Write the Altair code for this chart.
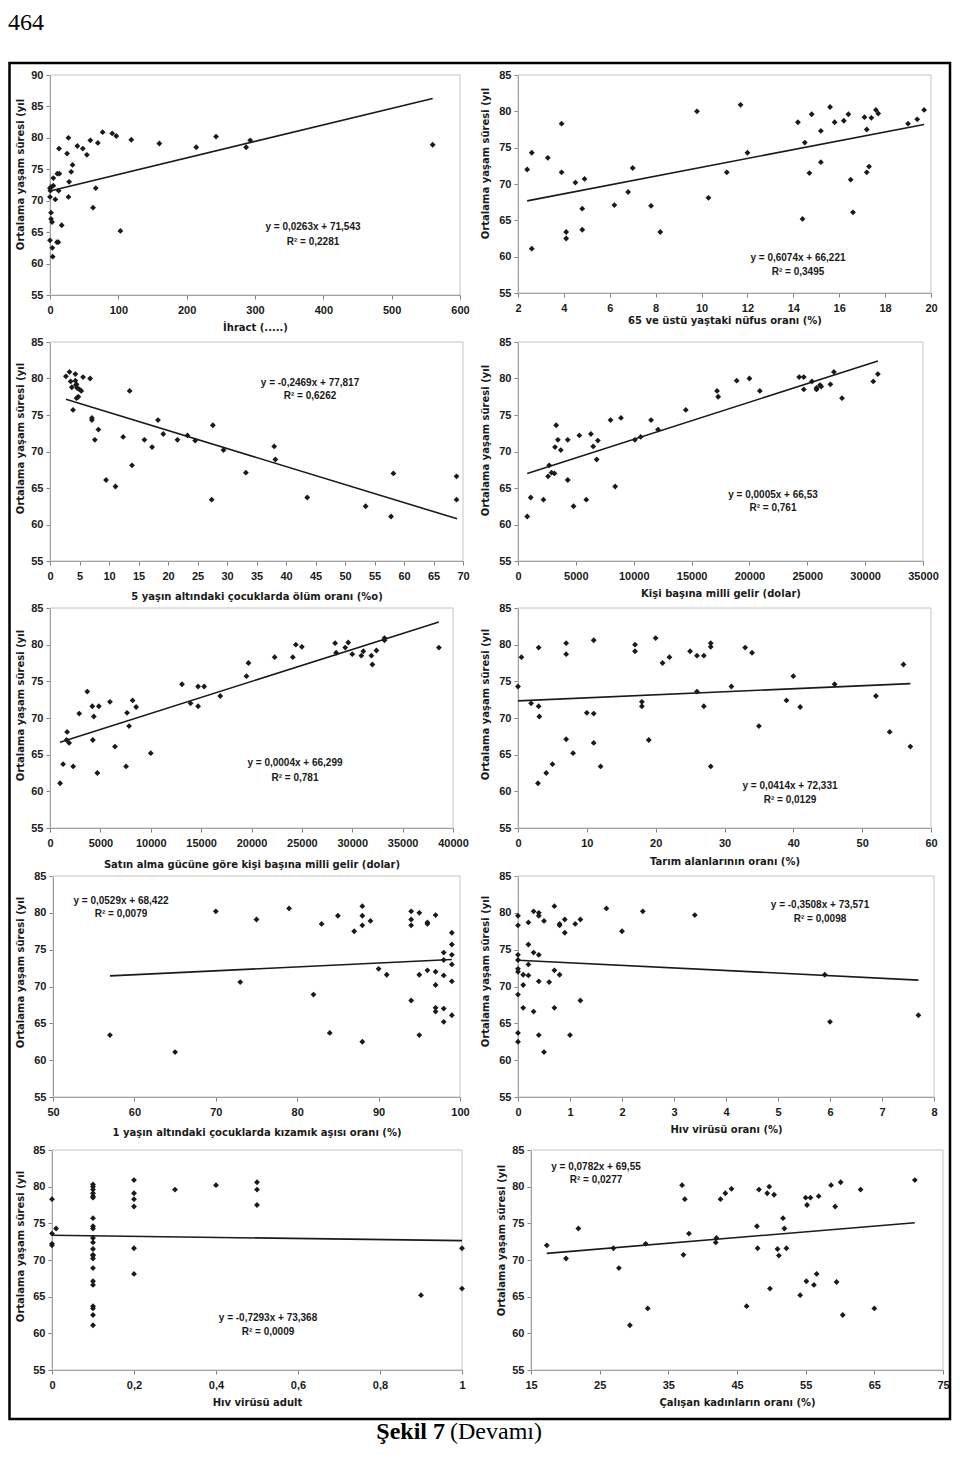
import altair as alt
import pandas as pd

LABEL_FONT = "Liberation Sans"
TITLE_FONT = "DejaVu Sans"
SERIF = "Liberation Serif"
INK = "#1a1a1a"
AXIS_GRAY = "#808080"
FRAME_GRAY = "#c4c4c4"

Y_TITLE = "Ortalama yaşam süresi (yıl"
Y_TICKS_90 = [55, 60, 65, 70, 75, 80, 85, 90]
Y_TICKS_85 = [55, 60, 65, 70, 75, 80, 85]

# ---------------- Panel 1: İhracat ----------------
p1_x = [0, 1.5, 1.5, 3, 3.4, 3.9, 0, 0, 1.5, 4.9, 4.9, 0.5, 7.8, 10.2, 12.2, 10.7, 13.7, 13.2,
        12.7, 17.1, 27, 25, 28, 27, 31, 33, 40, 48, 54, 59, 63, 67, 70, 77, 91, 97,
        103, 119, 160, 214, 243, 287, 293, 560]
p1_y = [63.7, 68.1, 67.1, 66.6, 62.5, 61.1, 70.6, 72.0, 72.2, 72.4, 73.6, 71.6, 70.2, 63.4, 63.4, 74.3, 74.3, 78.3,
        71.6, 66.1, 80.0, 77.5, 73.0, 70.6, 74.6, 75.7, 78.7, 78.3, 77.3, 79.6, 68.9, 72.0, 79.2, 80.9, 80.7, 80.3,
        65.2, 79.7, 79.1, 78.5, 80.2, 78.5, 79.6, 78.9]
p1_trend_x = [0, 560]
p1_trend_y = [71.54, 86.27]
p1_xticks = [0, 100, 200, 300, 400, 500, 600]
p1_xtitle = "İhract (.....)"
p1_eq = ["y = 0,0263x + 71,543", "R² = 0,2281"]

# ---------------- Panel 2: 65+ nüfus ----------------
p2_x = [2.4, 2.6, 2.6, 3.3, 3.9, 3.9, 4.1, 4.1, 4.5, 4.8, 4.8, 4.9, 6.2, 6.8, 7.0, 7.8, 8.2, 9.8, 10.3,
        11.1, 11.7, 12.0, 14.2, 14.4, 14.5, 14.7, 14.8, 15.2, 15.2, 15.6, 15.8, 16.2, 16.4, 16.5, 16.6,
        17.1, 17.2, 17.2, 17.3, 17.4, 17.6, 17.7, 19.0, 19.4, 19.7]
p2_y = [72.0, 74.3, 61.1, 73.6, 78.3, 71.6, 63.4, 62.5, 70.2, 66.6, 63.7, 70.7, 67.1, 68.9, 72.2, 67.0, 63.4, 80.0, 68.1,
        71.6, 80.9, 74.3, 78.5, 65.2, 75.7, 71.5, 79.6, 77.3, 73.0, 80.6, 78.5, 78.7, 79.6, 70.6, 66.1,
        79.2, 77.5, 71.6, 72.4, 79.1, 80.2, 79.7, 78.3, 78.9, 80.2]
p2_trend_x = [2.4, 19.7]
p2_trend_y = [67.68, 78.19]
p2_xticks = [2, 4, 6, 8, 10, 12, 14, 16, 18, 20]
p2_xtitle = "65 ve üstü yaştaki nüfus oranı (%)"
p2_eq = ["y = 0,6074x + 66,221", "R² = 0,3495"]

# ---------------- Panel 3: 5 yaş altı ölüm ----------------
p3_x = [2.7, 3.3, 3.5, 3.7, 3.9, 4.3, 4.3, 4.4, 4.5, 4.6, 4.8, 4.5, 5.0, 5.3, 5.6, 6.8, 7.1, 7.1,
        7.6, 8.2, 9.5, 11.1, 12.4, 13.5, 13.9, 16.0, 17.3, 18.3, 19.2, 21.6, 23.3, 24.6, 27.4, 27.6,
        29.4, 33.2, 38.0, 38.2, 43.6, 53.5, 57.8, 58.2, 68.9, 68.9]
p3_y = [80.3, 80.9, 79.6, 78.8, 75.7, 80.6, 79.7, 79.1, 79.2, 78.7, 77.5, 77.3, 78.5, 78.3, 80.2, 80.0, 74.6, 74.3,
        71.6, 73.0, 66.1, 65.2, 72.0, 78.3, 68.1, 71.6, 70.6, 74.3, 72.4, 71.6, 72.2, 71.5, 63.4, 73.6,
        70.2, 67.1, 70.7, 68.9, 63.7, 62.5, 61.1, 67.0, 66.6, 63.4]
p3_trend_x = [2.7, 69.0]
p3_trend_y = [77.15, 60.78]
p3_xticks = [0, 5, 10, 15, 20, 25, 30, 35, 40, 45, 50, 55, 60, 65, 70]
p3_xtitle = "5 yaşın altındaki çocuklarda ölüm oranı (%o)"
p3_eq = ["y = -0,2469x + 77,817", "R² = 0,6262"]

# ---------------- Panel 4: kişi başına milli gelir ----------------
p4_x = [800, 1100, 2200, 2600, 2700, 2900, 3200, 3300, 3450, 3150, 3700, 4300, 4300, 4800, 5300, 6300,
        6500, 6800, 6900, 5900, 8000, 8400, 8900, 10100, 10600, 11500, 12100, 14500, 17200, 17300,
        18900, 20000, 20900, 24300, 24700, 24700, 25400, 25800, 25800, 26100, 26200, 27000, 27300,
        28000, 30700, 31100]
p4_y = [61.1, 63.7, 63.4, 66.6, 68.1, 67.1, 70.6, 73.6, 71.6, 67.0, 70.2, 71.6, 66.1, 62.5, 72.2, 72.4,
        70.7, 68.9, 71.5, 63.4, 74.3, 65.2, 74.6, 71.6, 72.0, 74.3, 73.0, 75.7, 78.3, 77.5,
        79.7, 80.0, 78.3, 80.2, 80.2, 78.5, 79.6, 78.7, 78.5, 79.1, 78.9, 79.2, 80.9,
        77.3, 79.6, 80.6]
p4_trend_x = [800, 31100]
p4_trend_y = [67.0, 82.4]
p4_xticks = [0, 5000, 10000, 15000, 20000, 25000, 30000, 35000]
p4_xtitle = "Kişi başına milli gelir (dolar)"
p4_eq = ["y = 0,0005x + 66,53", "R² = 0,761"]

# ---------------- Panel 5: satın alma gücü ----------------
p5_x = [1000, 1300, 1700, 1650, 1900, 2300, 2900, 3700, 4200, 4350, 4250, 4700, 4850, 5950, 6450, 7550,
        7650, 7850, 8200, 8550, 10000, 13100, 13950, 14700, 14700, 15300, 16900, 19500, 19700, 22300,
        24100, 24400, 25000, 28300, 28400, 29300, 29600, 30000, 30900, 31100, 31900, 32000, 32400,
        33200, 33200, 38600]
p5_y = [61.1, 63.7, 68.1, 67.0, 66.6, 63.4, 70.6, 73.6, 71.6, 70.2, 67.0, 62.5, 71.6, 72.2, 66.1, 63.4,
        70.7, 68.9, 72.4, 71.5, 65.2, 74.6, 72.0, 74.3, 71.6, 74.3, 73.0, 75.7, 77.5, 78.3,
        78.3, 80.0, 79.7, 80.2, 78.9, 79.6, 80.3, 78.7, 78.5, 79.1, 78.5, 77.3, 79.2,
        80.9, 80.6, 79.6]
p5_trend_x = [1000, 38600]
p5_trend_y = [66.7, 83.1]
p5_xticks = [0, 5000, 10000, 15000, 20000, 25000, 30000, 35000, 40000]
p5_xtitle = "Satın alma gücüne göre kişi başına milli gelir (dolar)"
p5_eq = ["y = 0,0004x + 66,299", "R² = 0,781"]

# ---------------- Panel 6: tarım alanları ----------------
p6_x = [0, 0.5, 1.9, 2.9, 3.0, 3.0, 3.1, 4.1, 5.0, 7, 7, 7, 8, 10, 11, 11, 11, 12, 17, 17, 18, 18, 19, 20,
        21, 22, 25, 26, 26, 27, 27, 28, 28, 28, 31, 33, 34, 35, 39, 40, 41, 46, 52, 54, 56, 57]
p6_y = [74.3, 78.3, 72.0, 61.1, 79.6, 71.6, 70.2, 62.5, 63.7, 80.2, 78.7, 67.1, 65.2, 70.7, 70.6, 80.6, 66.6,
        63.4, 80.0, 79.1, 72.2, 71.6, 67.0, 80.9, 77.5, 78.3, 79.1, 78.5, 73.6, 78.5, 71.6, 80.2, 79.7, 63.4,
        74.3, 79.6, 78.9, 68.9, 72.4, 75.7, 71.5, 74.6, 73.0, 68.1, 77.3, 66.1]
p6_trend_x = [0, 57]
p6_trend_y = [72.33, 74.69]
p6_xticks = [0, 10, 20, 30, 40, 50, 60]
p6_xtitle = "Tarım alanlarının oranı (%)"
p6_eq = ["y = 0,0414x + 72,331", "R² = 0,0129"]

# ---------------- Panel 7: kızamık aşısı ----------------
p7_x = [57, 65, 70, 73, 75, 79, 82, 83, 84, 85, 87, 88, 88, 88, 88, 89, 90, 91, 94, 94, 94, 94, 95, 95,
        95, 96, 96, 96, 97, 97, 97, 97, 97, 98, 98, 98, 98, 98, 99, 99, 99, 99, 99, 99]
p7_y = [63.4, 61.1, 80.2, 70.6, 79.1, 80.6, 68.9, 78.5, 63.7, 79.6, 77.5, 80.9, 79.6, 78.3, 62.5, 78.9,
        72.4, 71.6, 80.2, 79.1, 78.3, 68.1, 80.0, 71.6, 63.4, 78.5, 78.7, 72.2, 79.7, 72.0, 70.2, 67.1,
        66.6, 74.6, 73.6, 71.5, 67.0, 65.2, 77.3, 75.7, 74.3, 73.0, 70.7, 66.1]
p7_trend_x = [57, 99]
p7_trend_y = [71.44, 73.66]
p7_xticks = [50, 60, 70, 80, 90, 100]
p7_xtitle = "1 yaşın altındaki çocuklarda kızamık aşısı oranı (%)"
p7_eq = ["y = 0,0529x + 68,422", "R² = 0,0079"]

# ---------------- Panel 8: HIV oranı ----------------
p8_x = [0, 0, 0, 0, 0, 0, 0, 0, 0, 0.1, 0.1, 0.1, 0.2, 0.2, 0.2, 0.2, 0.3, 0.3, 0.3,
        0.4, 0.4, 0.4, 0.4, 0.4, 0.5, 0.5, 0.6, 0.7, 0.7, 0.7, 0.8, 0.8, 0.8, 0.9, 0.9,
        1.0, 1.1, 1.2, 1.2, 1.7, 2.0, 2.4, 3.4, 5.9, 6.0, 7.7]
p8_y = [79.6, 78.3, 74.3, 73.6, 72.4, 72.0, 68.9, 63.7, 62.5, 71.6, 70.2, 67.1, 78.7, 75.7, 73.0, 71.5,
        80.2, 74.6, 66.6, 80.0, 79.6, 74.3, 70.7, 63.4, 78.9, 61.1, 70.6, 80.9, 72.2, 67.1, 78.5, 78.3,
        71.6, 79.1, 77.3, 63.4, 78.5, 79.1, 68.1, 80.6, 77.5, 80.2, 79.7, 71.6, 65.2, 66.1]
p8_trend_x = [0, 7.7]
p8_trend_y = [73.57, 70.87]
p8_xticks = [0, 1, 2, 3, 4, 5, 6, 7, 8]
p8_xtitle = "Hıv virüsü oranı (%)"
p8_eq = ["y = -0,3508x + 73,571", "R² = 0,0098"]

# ---------------- Panel 9: HIV adult ----------------
p9_x = [0, 0, 0, 0, 0.01,
        0.1, 0.1, 0.1, 0.1, 0.1, 0.1, 0.1, 0.1, 0.1, 0.1, 0.1,
        0.1, 0.1, 0.1, 0.1, 0.1, 0.1, 0.1, 0.1, 0.1, 0.1, 0.1,
        0.2, 0.2, 0.2, 0.2, 0.2, 0.2,
        0.3, 0.4, 0.5, 0.5, 0.5, 0.9, 1, 1]
p9_y = [78.3, 73.6, 72.2, 72.0, 74.3,
        80.3, 80.0, 79.6, 79.1, 78.7, 78.5, 75.7, 74.6, 74.3, 73.0, 72.4,
        71.5, 70.7, 70.6, 70.2, 68.9, 67.1, 66.6, 63.7, 63.4, 62.5, 61.1,
        80.9, 79.1, 78.3, 77.3, 71.6, 68.1,
        79.6, 80.2, 80.6, 79.6, 77.5, 65.2, 71.6, 66.1]
p9_trend_x = [0, 1]
p9_trend_y = [73.37, 72.64]
p9_xticks = [0, 0.2, 0.4, 0.6, 0.8, 1]
p9_xtitle = "Hıv virüsü adult"
p9_eq = ["y = -0,7293x + 73,368", "R² = 0,0009"]

# ---------------- Panel 10: çalışan kadınlar ----------------
p10_x = [17.3, 20.1, 21.9, 27.0, 27.8, 29.4, 31.7, 32.0, 37.0, 37.2, 37.4, 38.0, 41.9, 42.0, 42.6, 43.3,
         44.2, 46.4, 47.9, 48.0, 48.2, 49.4, 49.7, 49.8, 50.4, 50.9, 51.1, 51.7, 51.9, 52.2, 54.2, 55.0,
         55.1, 55.2, 55.7, 56.2, 56.6, 56.9, 58.7, 59.3, 59.5, 60.1, 60.4, 63.0, 65.0, 70.9]
p10_y = [72.0, 70.2, 74.3, 71.6, 68.9, 61.1, 72.2, 63.4, 80.2, 70.7, 78.3, 73.6, 72.4, 73.0, 78.3, 79.1,
         79.7, 63.7, 74.6, 71.6, 79.6, 79.1, 80.0, 66.1, 78.9, 71.5, 70.6, 75.7, 74.3, 71.6, 65.2, 78.5,
         67.1, 77.5, 78.5, 66.6, 68.1, 78.7, 80.2, 77.3, 67.0, 80.6, 62.5, 79.6, 63.4, 80.9]
p10_trend_x = [17.3, 70.9]
p10_trend_y = [70.90, 75.09]
p10_xticks = [15, 25, 35, 45, 55, 65, 75]
p10_xtitle = "Çalışan kadınların oranı (%)"
p10_eq = ["y = 0,0782x + 69,55", "R² = 0,0277"]

PAGE_NUMBER = "464"
CAPTION_BOLD = "Şekil 7"
CAPTION_REST = "(Devamı)"

# ---------------- layout (pixels, per panel) ----------------
LAYOUT = [
    dict(dx=0, w=410, dy=0, h=220, ytx=-30, yty=99, xty=32, ex=263, ey1=152, ey2=167),
    dict(dx=0, w=413, dy=0, h=218, ytx=-33, yty=88, xty=27, ex=280, ey1=183, ey2=197),
    dict(dx=0, w=413, dy=0, h=219, ytx=-30, yty=96, xty=35, ex=260, ey1=41, ey2=54),
    dict(dx=0, w=405, dy=0, h=219, ytx=-33, yty=98, xty=32, ex=255, ey1=153, ey2=166),
    dict(dx=0, w=403, dy=0, h=220, ytx=-30, yty=97, xty=36, ex=245, ey1=155, ey2=170),
    dict(dx=0, w=413, dy=0, h=220, ytx=-33, yty=96, xty=33, ex=272, ey1=178, ey2=192),
    dict(dx=3, w=407, dy=1, h=221, ytx=-33, yty=97, xty=35, ex=71, ey1=26, ey2=39),
    dict(dx=0, w=416, dy=1, h=221, ytx=-33, yty=96, xty=32, ex=302, ey1=30, ey2=44),
    dict(dx=2, w=410, dy=6, h=220, ytx=-32, yty=102, xty=32, ex=218, ey1=174, ey2=188),
    dict(dx=13, w=412, dy=6, h=220, ytx=-30, yty=96, xty=32, ex=78, ey1=23, ey2=36),
]

PANELS = [
    (p1_x, p1_y, p1_trend_x, p1_trend_y, [0, 600], p1_xticks, [55, 90], Y_TICKS_90, p1_xtitle, p1_eq),
    (p2_x, p2_y, p2_trend_x, p2_trend_y, [2, 20], p2_xticks, [55, 85], Y_TICKS_85, p2_xtitle, p2_eq),
    (p3_x, p3_y, p3_trend_x, p3_trend_y, [0, 70], p3_xticks, [55, 85], Y_TICKS_85, p3_xtitle, p3_eq),
    (p4_x, p4_y, p4_trend_x, p4_trend_y, [0, 35000], p4_xticks, [55, 85], Y_TICKS_85, p4_xtitle, p4_eq),
    (p5_x, p5_y, p5_trend_x, p5_trend_y, [0, 40000], p5_xticks, [55, 85], Y_TICKS_85, p5_xtitle, p5_eq),
    (p6_x, p6_y, p6_trend_x, p6_trend_y, [0, 60], p6_xticks, [55, 85], Y_TICKS_85, p6_xtitle, p6_eq),
    (p7_x, p7_y, p7_trend_x, p7_trend_y, [50, 100], p7_xticks, [55, 85], Y_TICKS_85, p7_xtitle, p7_eq),
    (p8_x, p8_y, p8_trend_x, p8_trend_y, [0, 8], p8_xticks, [55, 85], Y_TICKS_85, p8_xtitle, p8_eq),
    (p9_x, p9_y, p9_trend_x, p9_trend_y, [0, 1], p9_xticks, [55, 85], Y_TICKS_85, p9_xtitle, p9_eq),
    (p10_x, p10_y, p10_trend_x, p10_trend_y, [15, 75], p10_xticks, [55, 85], Y_TICKS_85, p10_xtitle, p10_eq),
]

ONE = pd.DataFrame({"k": [0]})


def build_panel(idx):
    px, py, tx, ty, xdom, xticks, ydom, yticks, xtitle, eq = PANELS[idx]
    L = LAYOUT[idx]
    dx, w, dy, h = L["dx"], L["w"], L["dy"], L["h"]
    df = pd.DataFrame({"x": px, "y": py})
    tdf = pd.DataFrame({"x": tx, "y": ty})

    xscale = alt.Scale(domain=xdom, range=[dx, dx + w], nice=False, zero=False)
    yscale = alt.Scale(domain=ydom, range=[dy + h, dy], nice=False, zero=False)

    xkw = dict(values=xticks, title=xtitle, titleY=L["xty"], labelPadding=5)
    if idx == 8:
        xkw["labelExpr"] = "replace(format(datum.value, '~g'), '.', ',')"
    else:
        xkw["format"] = "d"
    xaxis = alt.Axis(**xkw)
    yaxis = alt.Axis(values=yticks, format="d", title=Y_TITLE, titleX=L["ytx"], titleY=L["yty"],
                     offset=-dx, labelPadding=3)

    frame = alt.Chart(ONE).mark_rect(filled=False, stroke=FRAME_GRAY, strokeWidth=1).encode(
        x=alt.value(dx), x2=alt.value(dx + w), y=alt.value(dy), y2=alt.value(dy + h))
    pts = alt.Chart(df).mark_point(shape="diamond", filled=True, size=34, color=INK, opacity=1).encode(
        x=alt.X("x:Q", scale=xscale, axis=xaxis),
        y=alt.Y("y:Q", scale=yscale, axis=yaxis))
    line = alt.Chart(tdf).mark_line(color=INK, strokeWidth=1.6).encode(
        x=alt.X("x:Q", scale=xscale, axis=xaxis),
        y=alt.Y("y:Q", scale=yscale, axis=yaxis))
    tstyle = dict(font=LABEL_FONT, fontSize=10, fontWeight="bold", color=INK, align="center", baseline="middle")
    eq1 = alt.Chart(ONE).mark_text(text=eq[0], **tstyle).encode(x=alt.value(L["ex"]), y=alt.value(L["ey1"]))
    eq2 = alt.Chart(ONE).mark_text(text=eq[1], **tstyle).encode(x=alt.value(L["ex"]), y=alt.value(L["ey2"]))

    layers = [frame, pts, line, eq1, eq2]

    if idx == 0:
        page_no = alt.Chart(ONE).mark_text(text=PAGE_NUMBER, font=SERIF, fontSize=24, color="black",
                                           align="left", baseline="top").encode(
            x=alt.value(-42), y=alt.value(-64))
        outer = alt.Chart(ONE).mark_rect(filled=False, stroke="black", strokeWidth=2.5).encode(
            x=alt.value(-40.5), x2=alt.value(900), y=alt.value(-12), y2=alt.value(1344))
        cap1 = alt.Chart(ONE).mark_text(text=CAPTION_BOLD, font=SERIF, fontSize=24, fontWeight="bold",
                                        color="black", align="right", baseline="alphabetic").encode(
            x=alt.value(395), y=alt.value(1364))
        cap2 = alt.Chart(ONE).mark_text(text=CAPTION_REST, font=SERIF, fontSize=24,
                                        color="black", align="left", baseline="alphabetic").encode(
            x=alt.value(400), y=alt.value(1364))
        layers += [page_no, outer, cap1, cap2]

    return alt.layer(*layers).properties(width=dx + w, height=dy + h)


charts = [build_panel(i) for i in range(10)]

chart = alt.concat(
    *charts, columns=2, spacing={"row": 47, "column": 55}, bounds="flush"
).properties(
    padding={"left": 0, "top": 3, "right": 0, "bottom": 0}, background="white"
).configure_view(
    strokeWidth=0
).configure_axis(
    labelFont=LABEL_FONT, labelFontSize=11, labelFontWeight="bold", labelColor=INK,
    titleFont=TITLE_FONT, titleFontSize=10, titleFontWeight="bold", titleColor=INK,
    titleBaseline="middle",
    domainColor=AXIS_GRAY, tickColor=AXIS_GRAY, domainWidth=1, tickWidth=1, tickSize=4,
    grid=False, labelFlush=False, labelOverlap=False, zindex=1
)

chart.save("out.html", embed_options={"renderer": "svg", "actions": False})
